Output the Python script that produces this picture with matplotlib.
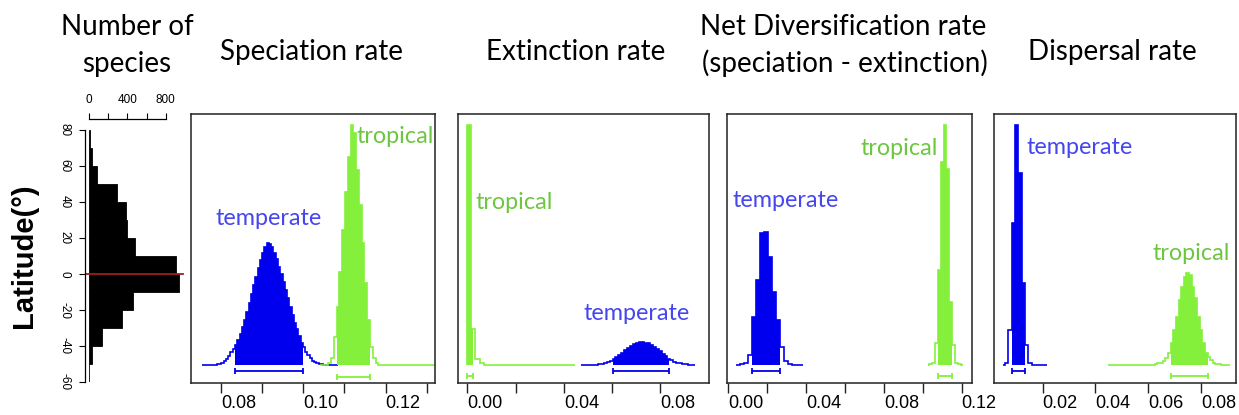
import matplotlib
matplotlib.use('Agg')
import matplotlib.pyplot as plt
import numpy as np

plt.rcParams['font.family'] = ['Liberation Sans', 'DejaVu Sans']

# number of species per 10 degree latitude band (band lower edge)
lat_bins = [-60, -50, -40, -30, -20, -10, 0, 10, 20, 30, 40, 50, 60, 70]
n_species = [5, 34, 132, 341, 462, 942, 904, 483, 393, 383, 289, 80, 31, 6]

# posterior histograms, heights scaled so the tallest bar of a panel is 100
# speciation rate
spec_temp_start, spec_temp_width = 0.0790, 0.00055
spec_temp = [0.3, 0.4, 0.8, 1.5, 2.6, 3.9, 5.3, 6.9, 8.3, 10.4, 12.8, 15.7,
             18.8, 22.2, 25.7, 29.6, 33.3, 36.8, 40.3, 43.8, 46.9, 49.0, 50.7,
             50.4, 49.3, 46.8, 44.0, 41.0, 37.9, 34.7, 31.3, 27.8, 24.3, 20.8,
             17.6, 14.9, 12.1, 9.4, 7.4, 5.6, 4.0, 2.8, 1.8, 1.1, 0.7, 0.4, 0.3, 0.1]
spec_temp_span = (0.0755, 0.1085)
spec_temp_hpd = (0.0834, 0.1000)

spec_trop_start, spec_trop_width = 0.10608, 0.000675
spec_trop = [0.7, 2.8, 11.8, 24.3, 38.9, 56.3, 72.2, 86.8, 100, 96.5, 81.3,
             66.7, 50.7, 34.0, 18.8, 7.6, 2.8, 1.0]
spec_trop_span = (0.1041, 0.14)
spec_trop_hpd = (0.1081, 0.1162)

# extinction rate
ext_trop_start, ext_trop_width = 0.0, 0.0017
ext_trop = [100, 14.9, 2.4, 0.7]
ext_trop_span = (0.0, 0.0447)
ext_trop_hpd = (0.0, 0.0022)

ext_temp_start, ext_temp_width = 0.0530, 0.0012
ext_temp = [0.2, 0.3, 0.5, 0.8, 1.2, 1.8, 2.6, 3.5, 4.3, 5.2, 6.1, 7.0, 7.9,
            8.6, 9.2, 9.7, 9.6, 9.4, 9.0, 8.4, 7.6, 6.6, 5.7, 4.6, 3.6, 2.7,
            2.0, 1.4, 1.0, 0.7, 0.5, 0.3, 0.2]
ext_temp_span = (0.0470, 0.0945)
ext_temp_hpd = (0.0602, 0.0838)

# net diversification rate
div_temp_start, div_temp_width = 0.00584, 0.00208
div_temp = [0.3, 1.0, 4.2, 20.1, 35.4, 54.9, 55.6, 45.1, 30.6, 18.8, 7.6, 1.8, 0.4]
div_temp_span = (0.0038, 0.0386)
div_temp_hpd = (0.0120, 0.0266)

div_trop_start, div_trop_width = 0.10312, 0.00151
div_trop = [0.3, 1.0, 9.0, 39.6, 84.7, 100, 81.9, 26.4, 8.3, 1.0, 0.3]
div_trop_span = (0.1028, 0.1208)
div_trop_hpd = (0.1076, 0.1152)

# dispersal rate
disp_temp_start, disp_temp_width = 0.00572, 0.001264
disp_temp = [0.7, 14.6, 59.0, 100, 79.9, 34.0, 8.3, 0.7]
disp_temp_span = (0.0051, 0.0215)
disp_temp_hpd = (0.00825, 0.0133)

disp_trop_start, disp_trop_width = 0.0625, 0.001
disp_trop = [0.3, 0.7, 1.0, 1.8, 2.8, 4.9, 9.0, 14.6, 20.1, 27.1, 32.6, 36.8,
             38.2, 37.5, 32.6, 27.8, 20.1, 14.6, 9.0, 4.9, 3.5, 2.1, 1.0, 0.4, 0.3]
disp_trop_span = (0.0446, 0.091)
disp_trop_hpd = (0.0685, 0.0825)

BLUE = '#0000ee'
BLUE_TXT = '#4646ee'
GREEN = '#84f03c'
GREEN_TXT = '#6cc640'
EDGE = '#222222'

W, H = 1239, 415
fig = plt.figure(figsize=(W / 100, H / 100), dpi=100)


def rect(l, t, r, b):
    return [l / W, 1 - b / H, (r - l) / W, (b - t) / H]


def post(ax, start, width, heights, span, hpd, color, bar_y, cap):
    heights = np.asarray(heights, float)
    edges = start + width * np.arange(len(heights) + 1)
    ax.stairs(np.r_[0, heights, 0], np.r_[span[0], edges, span[1]],
              color=color, lw=1.2)
    lo, hi = hpd
    xs = np.r_[lo, edges[(edges > lo) & (edges < hi)], hi]
    mids = (xs[:-1] + xs[1:]) / 2
    idx = np.searchsorted(edges, mids) - 1
    ax.stairs(heights[idx], xs, fill=True, color=color, lw=0)
    ax.errorbar((lo + hi) / 2, bar_y, xerr=(hi - lo) / 2, color=color,
                lw=1.3, capsize=cap, capthick=1.3)


def setup(ax, xlim, ticks, labels):
    ax.set_xlim(xlim)
    ax.set_ylim(-7.6, 104.5)
    ax.set_yticks([])
    ax.set_xticks(ticks, labels)
    for lab in ax.get_xticklabels():
        lab.set_horizontalalignment('left')
    ax.tick_params(axis='x', length=7, width=1, pad=1.5, labelsize=13,
                   color=EDGE)
    for s in ax.spines.values():
        s.set_linewidth(1.1)
        s.set_color(EDGE)


def label(ax, x, y, s, c):
    ax.text(x, y, s, transform=ax.transAxes, ha='center', va='center',
            color=c, family='Lato', fontsize=16.8)


# latitude histogram
axh = fig.add_axes(rect(89, 130, 89 + 1000 * 0.0959, 382))
axh.barh(lat_bins, n_species, height=10, align='edge', color='black',
         edgecolor='black', lw=0.6)
axh.set_xlim(0, 1000)
axh.set_ylim(-60, 80)
axh.axhline(0, xmin=-0.03, xmax=0.98, color='#a01c1c', lw=1.3, clip_on=False)
axh.spines['right'].set_visible(False)
axh.spines['bottom'].set_visible(False)
axh.spines['left'].set_position(('outward', 3))
axh.spines['top'].set_position(('outward', 8))
axh.spines['top'].set_bounds(0, 800)
axh.spines['left'].set_linewidth(0.9)
axh.spines['top'].set_linewidth(0.9)
axh.xaxis.tick_top()
axh.set_xticks([0, 200, 400, 600, 800], ['0', '', '400', '', '800'])
yt = list(range(-60, 81, 20))
axh.set_yticks(yt, [str(v) for v in yt], rotation=-90, va='center')
axh.tick_params(axis='x', length=4.5, width=0.8, labelsize=8.5, pad=5)
axh.tick_params(axis='y', length=4.5, width=0.8, labelsize=8.5, pad=6)
fig.text(24 / W, 1 - 256 / H, 'Latitude(°)', rotation=90, ha='center',
         va='center', fontsize=21, fontweight='bold')

# speciation
ax1 = fig.add_axes(rect(191, 114.3, 435, 383.3))
post(ax1, spec_temp_start, spec_temp_width, spec_temp, spec_temp_span,
     spec_temp_hpd, BLUE, -2.5, 2.5)
post(ax1, spec_trop_start, spec_trop_width, spec_trop, spec_trop_span,
     spec_trop_hpd, GREEN, -4.8, 2)
setup(ax1, (0.07271, 0.1320), [0.08, 0.09, 0.10, 0.11, 0.12, 0.13],
      ['0.08', '', '0.10', '', '0.12', ''])
label(ax1, 0.317, 0.613, 'temperate', BLUE_TXT)
label(ax1, 0.838, 0.917, 'tropical', GREEN_TXT)

# extinction
ax2 = fig.add_axes(rect(458.3, 114.3, 708.5, 383.3))
post(ax2, ext_trop_start, ext_trop_width, ext_trop, ext_trop_span,
     ext_trop_hpd, GREEN, -4.6, 2)
post(ax2, ext_temp_start, ext_temp_width, ext_temp, ext_temp_span,
     ext_temp_hpd, BLUE, -2.5, 2.5)
setup(ax2, (-0.00373, 0.1000), [0.0, 0.02, 0.04, 0.06, 0.08],
      ['0.00', '', '0.04', '', '0.08'])
label(ax2, 0.222, 0.671, 'tropical', GREEN_TXT)
label(ax2, 0.714, 0.258, 'temperate', BLUE_TXT)

# net diversification
ax3 = fig.add_axes(rect(726.7, 114.3, 971.7, 383.3))
post(ax3, div_temp_start, div_temp_width, div_temp, div_temp_span,
     div_temp_hpd, BLUE, -2.5, 2.5)
post(ax3, div_trop_start, div_trop_width, div_trop, div_trop_span,
     div_trop_hpd, GREEN, -4.6, 2)
setup(ax3, (-0.00082, 0.12514), [0.0, 0.02, 0.04, 0.06, 0.08, 0.10, 0.12],
      ['0.00', '', '0.04', '', '0.08', '', '0.12'])
label(ax3, 0.706, 0.874, 'tropical', GREEN_TXT)
label(ax3, 0.241, 0.681, 'temperate', BLUE_TXT)

# dispersal
ax4 = fig.add_axes(rect(994.3, 114.3, 1236, 383.3))
post(ax4, disp_temp_start, disp_temp_width, disp_temp, disp_temp_span,
     disp_temp_hpd, BLUE, -2.5, 2.5)
post(ax4, disp_trop_start, disp_trop_width, disp_trop, disp_trop_span,
     disp_trop_hpd, GREEN, -4.6, 2)
setup(ax4, (0.00167, 0.09329), [0.02, 0.04, 0.06, 0.08],
      ['0.02', '0.04', '0.06', '0.08'])
label(ax4, 0.355, 0.877, 'temperate', BLUE_TXT)
label(ax4, 0.815, 0.483, 'tropical', GREEN_TXT)

# column titles
titles = [(127, 35, 'Number of'), (127, 72, 'species'),
          (311, 60, 'Speciation rate'), (576, 60, 'Extinction rate'),
          (843, 35, 'Net Diversification rate'),
          (845, 72, '(speciation - extinction)'),
          (1112, 60, 'Dispersal rate')]
for x, yb, s in titles:
    fig.text(x / W, 1 - yb / H, s, ha='center', va='baseline',
             family='Lato', fontsize=20)

fig.savefig('out.png', dpi=100)
